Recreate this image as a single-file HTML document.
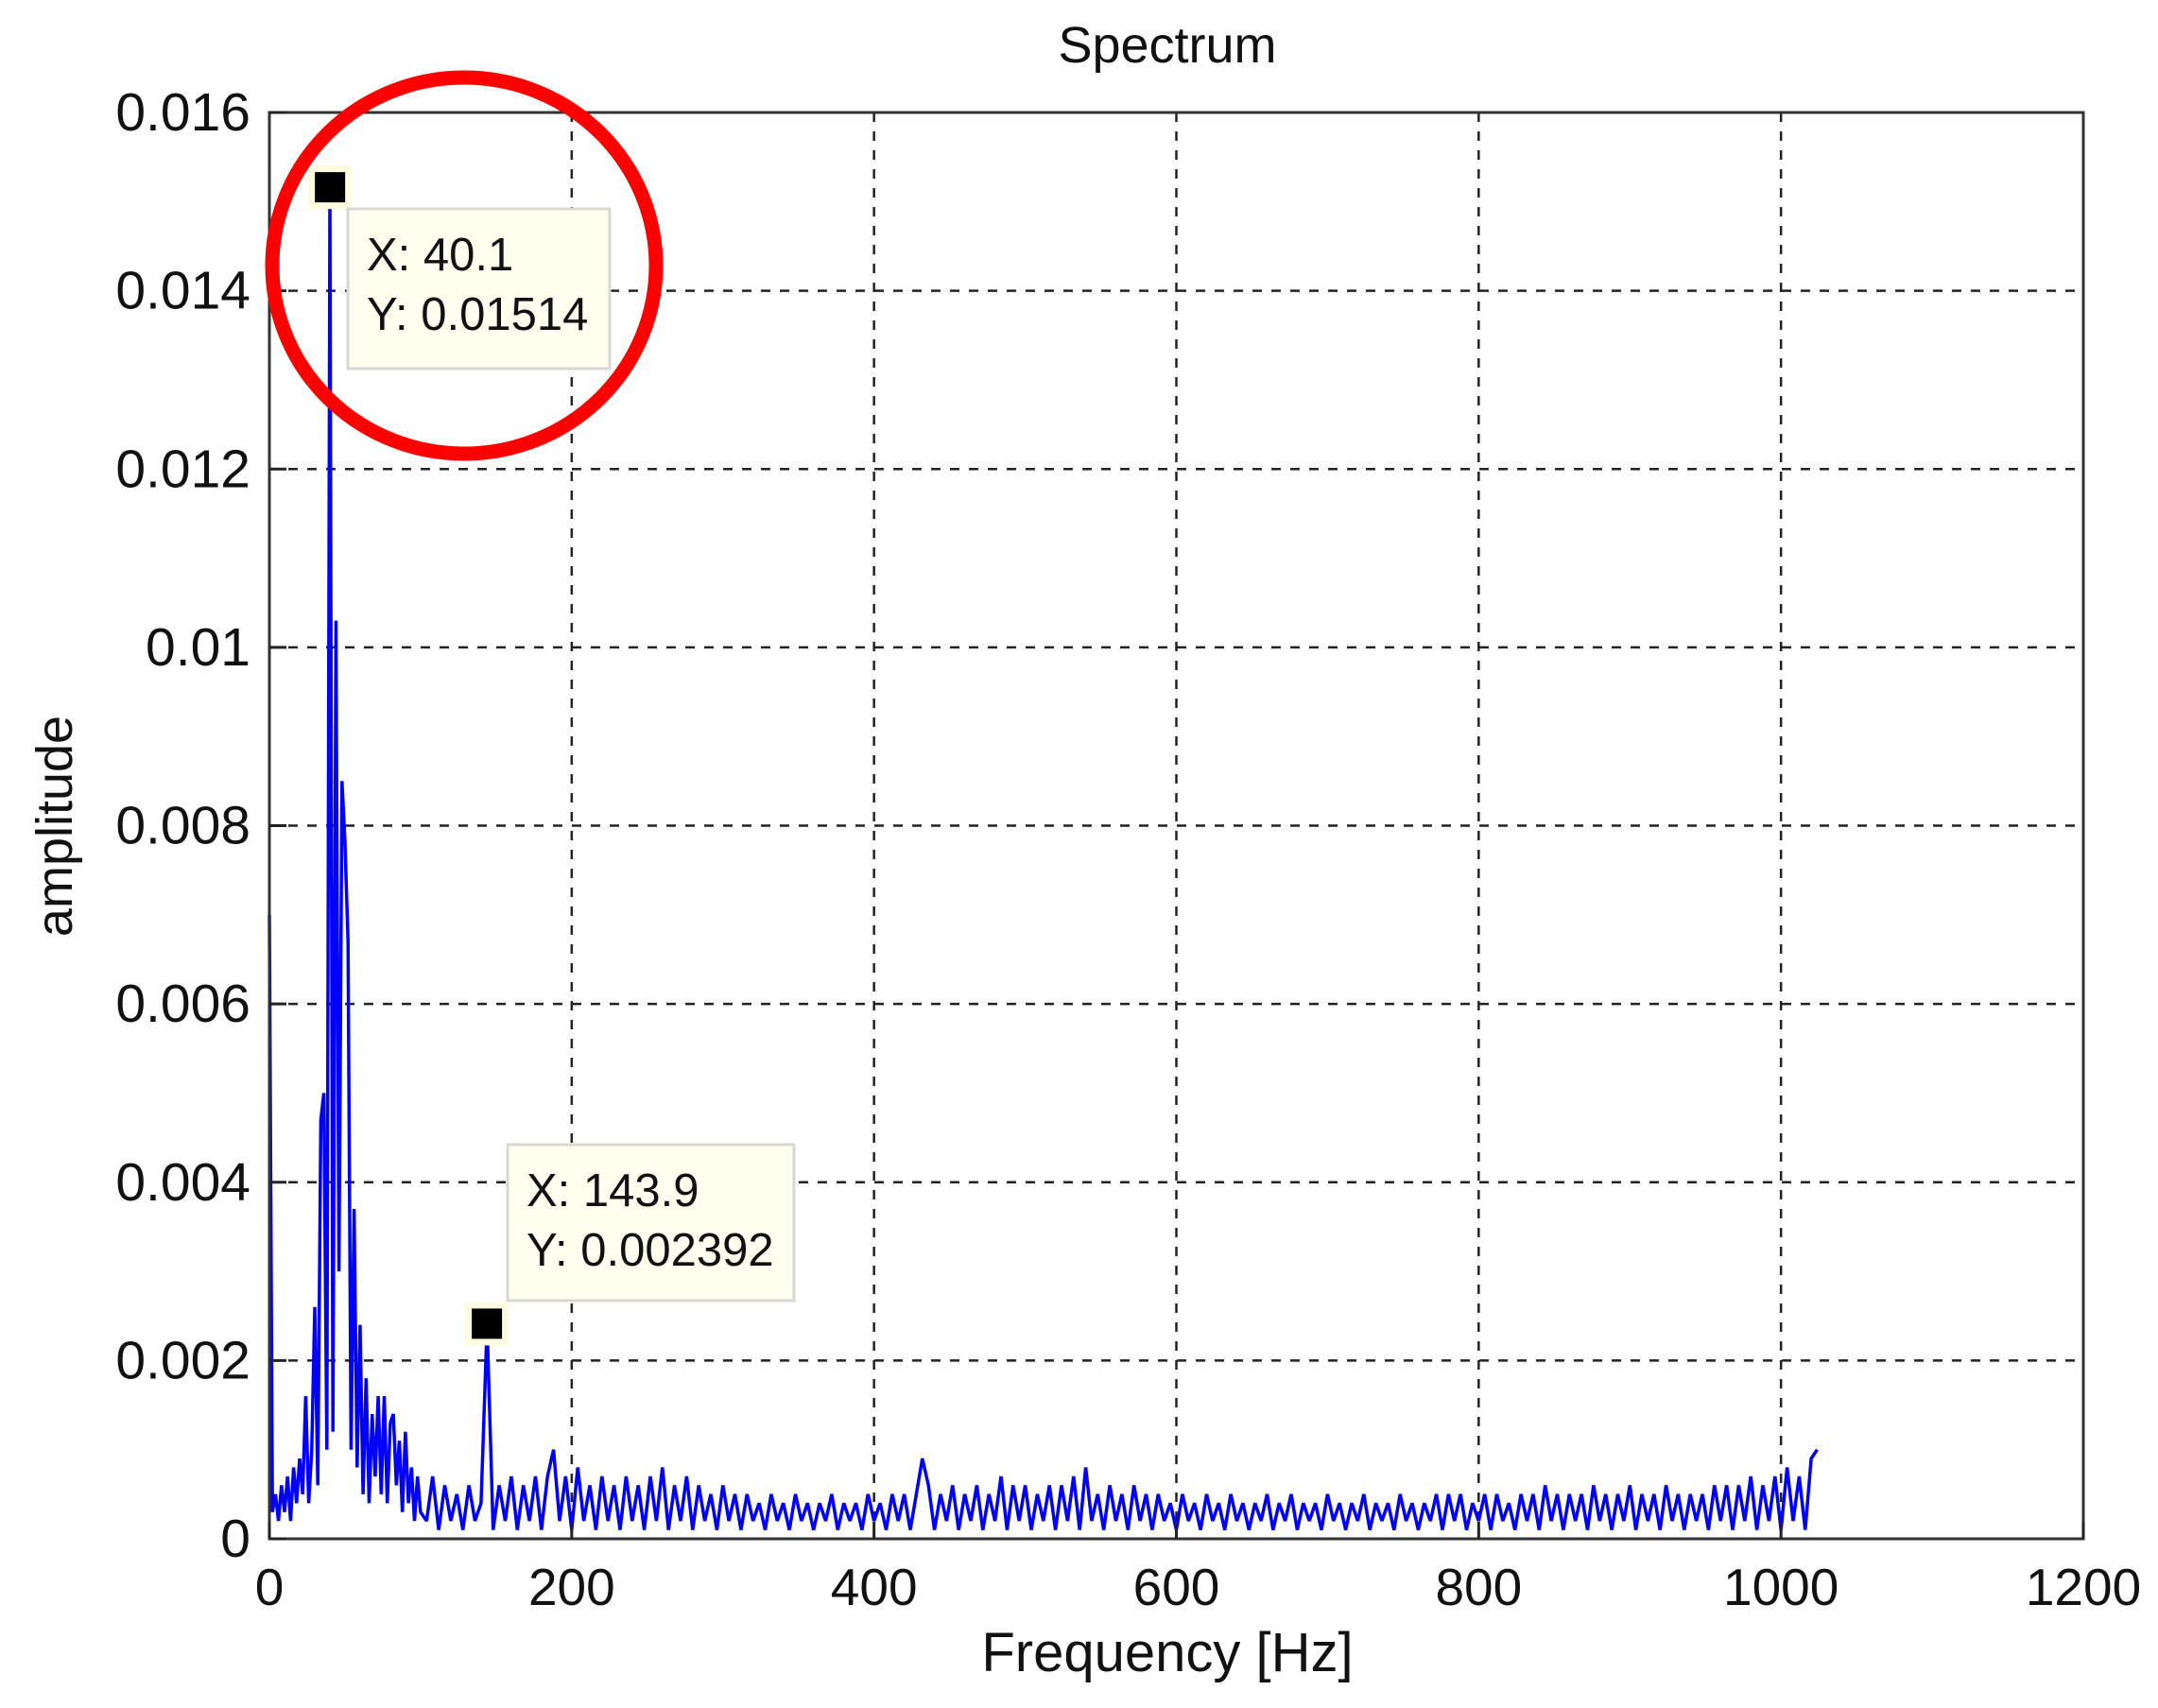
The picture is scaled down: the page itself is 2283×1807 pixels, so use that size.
<!DOCTYPE html>
<html><head><meta charset="utf-8"><style>
html,body{margin:0;padding:0;background:#fff;}
svg{display:block;font-family:"Liberation Sans",Arial,sans-serif;}
</style></head><body>
<svg id="chart" width="2283" height="1807" viewBox="0 0 2283 1807" xmlns="http://www.w3.org/2000/svg">
<rect x="0" y="0" width="2283" height="1807" fill="#fff"/>
<g id="grid"></g>
<g id="series"></g>
<rect x="285" y="119" width="1919" height="1509" fill="none" stroke="#333" stroke-width="3"/>
<g id="ticks"></g>
<text x="1235" y="66" font-size="54" text-anchor="middle" fill="#111">Spectrum</text>
<text x="1235" y="1768" font-size="58" text-anchor="middle" fill="#111">Frequency [Hz]</text>
<text x="0" y="0" font-size="54" text-anchor="middle" fill="#111" transform="translate(76,874) rotate(-90)">amplitude</text>
<g id="tips"></g>
<ellipse cx="491" cy="281" rx="203" ry="199" fill="none" stroke="#f00" stroke-width="15"/>
</svg>
<script>
// Spectrum values in units of 1e-4
const lowStep = 2; // 0..100 Hz
const lowValues = [70,3,5,2,6,3,7,2,8,4,9,5,16,4,10,26,6,47,50,10,151,12,103,30,85,78,67,10,37,8,24,5,18,4,14,7,16,5,16,4,13,14,6,11,3,12,4,8,2,7,3];
const highStart = 104, highStep = 4; // 104..1024 Hz
const highValues = [
2,7,1,6,2,5,1,6,2,4, 24,1,6,2,7,1,6,2,7,1, 7,10,2,7,1,8,2,6,1,7, 2,6,1,7,2,6,1,7,2,8,
1,6,2,7,1,6,2,5,1,6, 2,5,1,5,2,4,1,5,2,4, 1,5,2,4,1,4,2,5,1,4, 2,4,1,5,2,4,1,5,2,5,
1,5,9,6,1,5,2,6,1,5, 2,6,1,5,2,7,1,6,2,6, 1,5,2,6,1,6,2,7,1,8, 2,5,1,6,2,5,1,6,2,5,
1,5,2,4,1,5,2,4,1,5, 2,4,1,5,2,4,1,4,2,5, 1,4,2,5,1,4,2,4,1,5, 2,4,1,4,2,5,1,4,2,4,
1,5,2,4,1,4,2,5,1,5, 2,5,1,4,2,5,1,5,2,4, 1,5,2,5,1,6,2,5,1,5, 2,5,1,6,2,5,1,5,2,6,
1,5,2,5,1,6,2,5,1,5, 2,5,1,6,2,6,1,6,2,7, 1,6,2,7,1,8,2,7,1,9, 10];
const xTicks = [0,200,400,600,800,1000,1200];
const yTicks = [0,0.002,0.004,0.006,0.008,0.01,0.012,0.014,0.016];
const yTickLabels = ["0","0.002","0.004","0.006","0.008","0.01","0.012","0.014","0.016"];
const tipPoints = [[40.1,0.01514],[143.9,0.002392]];
const tipLabels = [["X: 40.1","Y: 0.01514"],["X: 143.9","Y: 0.002392"]];

const L=285,R=2204,T=119,B=1628;
const sx=v=>L+(v/1200)*(R-L);
const sy=v=>B-(v/0.016)*(B-T);
const NS='http://www.w3.org/2000/svg';
function mk(tag,attrs,parent){const e=document.createElementNS(NS,tag);for(const k in attrs)e.setAttribute(k,attrs[k]);parent.appendChild(e);return e;}
const grid=document.getElementById('grid'),ticks=document.getElementById('ticks'),series=document.getElementById('series'),tips=document.getElementById('tips');

xTicks.forEach((t,i)=>{
  const x=sx(t);
  if(i>0&&i<xTicks.length-1){const g=mk('line',{x1:x,y1:T,x2:x,y2:B,stroke:'#222','stroke-width':2.5,'stroke-dasharray':'10,10'},grid);
  
  }
  const tk=mk('line',{x1:x,y1:B,x2:x,y2:B-18,stroke:'#222','stroke-width':3},ticks);
  
  
  const lb=mk('text',{x:x,y:B+70,'font-size':55,'text-anchor':'middle',fill:'#111'},ticks);
  lb.textContent=String(t);
  
  
});
yTicks.forEach((t,i)=>{
  const y=sy(t);
  if(i>0&&i<yTicks.length-1){const g=mk('line',{x1:L,y1:y,x2:R,y2:y,stroke:'#222','stroke-width':2.5,'stroke-dasharray':'10,10'},grid);
  
  }
  const tk=mk('line',{x1:L,y1:y,x2:L+18,y2:y,stroke:'#222','stroke-width':3},ticks);
  
  
  const lb=mk('text',{x:L-20,y:y+19,'font-size':57,'text-anchor':'end',fill:'#111'},ticks);
  lb.textContent=yTickLabels[i];
  
  
});

const pts=[];
lowValues.forEach((v,i)=>pts.push([i*lowStep,v*1e-4]));
highValues.forEach((v,i)=>pts.push([highStart+i*highStep,v*1e-4]));
const line=mk('polyline',{points:pts.map(p=>sx(p[0]).toFixed(1)+','+sy(p[1]).toFixed(1)).join(' '),fill:'none',stroke:'#0000ff','stroke-width':3.5,'stroke-linejoin':'miter','stroke-miterlimit':2},series);



const boxes=[{bx:368,by:221,bw:277,bh:169},{bx:537,by:1211,bw:303,bh:165}];
tipPoints.forEach((p,i)=>{
  const x=sx(p[0]),y=sy(p[1]);
  const st=mk('line',{x1:x,y1:y,x2:x,y2:y+30,stroke:'#0000ff','stroke-width':2.5},tips);
  
  
  const halo=mk('rect',{x:x-23,y:y-25,width:46,height:46,fill:'#fdfbe0'},tips);
  
  
  const m=mk('rect',{x:x-16,y:y-18,width:32,height:32,fill:'#000'},tips);
  
  
  const b=boxes[i];
  const r=mk('rect',{x:b.bx,y:b.by,width:b.bw,height:b.bh,fill:'#fffff0',stroke:'#d8d8d0','stroke-width':3},tips);
  
  
  tipLabels[i].forEach((s,j)=>{
    const t=mk('text',{x:b.bx+20,y:b.by+65+j*63,'font-size':49,fill:'#111'},tips);
    t.textContent=s;
    
    
  });
});
</script>
</body></html>
